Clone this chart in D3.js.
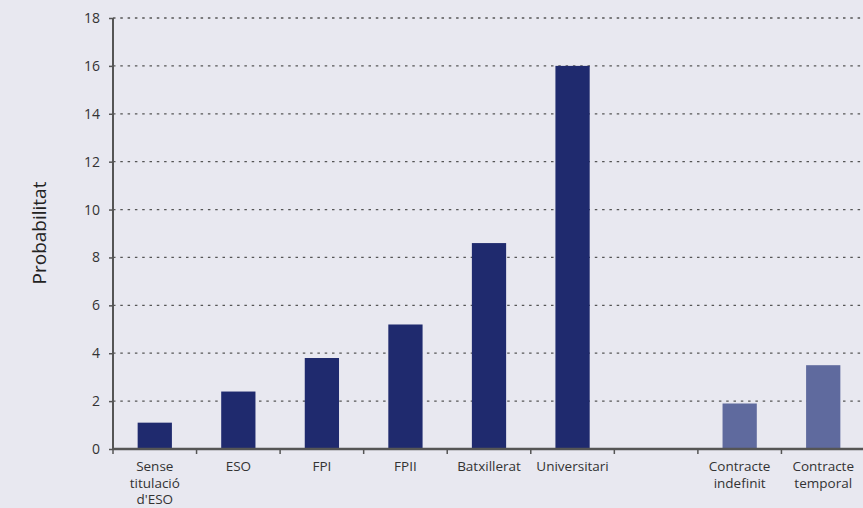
<!DOCTYPE html>
<html><head><meta charset="utf-8">
<script src="https://cdn.jsdelivr.net/npm/d3@7"></script>
<style>
html,body{margin:0;padding:0;background:#e8e8f0;}
svg{display:block;font-family:"Open Sans",sans-serif;}
</style></head>
<body><svg id="c" width="863" height="508"></svg>
<script>
const categories = ["Sense|titulació|d'ESO","ESO","FPI","FPII","Batxillerat","Universitari","","Contracte|indefinit","Contracte|temporal"];
const values = [1.1, 2.4, 3.8, 5.2, 8.6, 16.0, null, 1.9, 3.5];
const groups = ["edu","edu","edu","edu","edu","edu","none","contract","contract"];
const yTicks = [0,2,4,6,8,10,12,14,16,18];
const yLabel = "Probabilitat";

const colors = {edu:"#1f2a6e", contract:"#5f6a9e"};
const svg = d3.select("#c");
const m = {left:113, right:863+2, top:18, bottom:449};
const x = d3.scaleBand().domain(d3.range(categories.length)).range([m.left, m.right]).padding(0);
const y = d3.scaleLinear().domain([0,18]).range([m.bottom, m.top]);

// grid
svg.append("g").selectAll("line").data(yTicks.filter(d=>d>0)).join("line")
  .attr("x1", m.left).attr("x2", 863).attr("y1", d=>y(d)).attr("y2", d=>y(d))
  .attr("stroke","#555").attr("stroke-width",1.3).attr("stroke-dasharray","2.5,4.8");

// bars
const bw = x.bandwidth()*0.41;
svg.append("g").selectAll("rect").data(values.map((v,i)=>({v,i})).filter(d=>d.v!==null)).join("rect")
  .attr("x", d=>x(d.i)+x.bandwidth()/2-bw/2).attr("width", bw)
  .attr("y", d=>y(d.v)).attr("height", d=>y(0)-y(d.v))
  .attr("fill", d=>colors[groups[d.i]]);

// y axis
const ya = svg.append("g").attr("transform",`translate(${m.left},0)`)
  .call(d3.axisLeft(y).tickValues(yTicks).tickSize(4).tickPadding(9).tickFormat(d3.format("d")));
ya.select(".domain").attr("stroke","#555").attr("stroke-width",2).attr("d",`M0,${m.top}V${m.bottom}`);
ya.selectAll(".tick line").attr("stroke","#555").attr("stroke-width",1.5);
ya.selectAll(".tick text").attr("fill","#333").attr("font-size",14).attr("font-family","Open Sans");

// x axis
const xa = svg.append("g").attr("transform",`translate(0,${m.bottom})`);
xa.append("line").attr("x1",m.left).attr("x2",863).attr("y1",0).attr("y2",0).attr("stroke","#555").attr("stroke-width",2.5);
xa.selectAll("line.t").data(d3.range(categories.length)).join("line").attr("class","t")
  .attr("x1",d=>x(d)).attr("x2",d=>x(d)).attr("y1",0).attr("y2",5).attr("stroke","#555").attr("stroke-width",1.5);
categories.forEach((c,i)=>{
  if(!c) return;
  c.split("|").forEach((ln,j)=>{
    xa.append("text").attr("text-anchor","middle").attr("fill","#333").attr("font-size",13.5)
      .attr("x", x(i)+x.bandwidth()/2).attr("y", 22 + j*16.5).text(ln);
  });
});

// y label
svg.append("text").attr("transform","translate(46,233) rotate(-90)").attr("text-anchor","middle")
  .attr("fill","#222").attr("font-size",19).text(yLabel);
</script></body></html>
